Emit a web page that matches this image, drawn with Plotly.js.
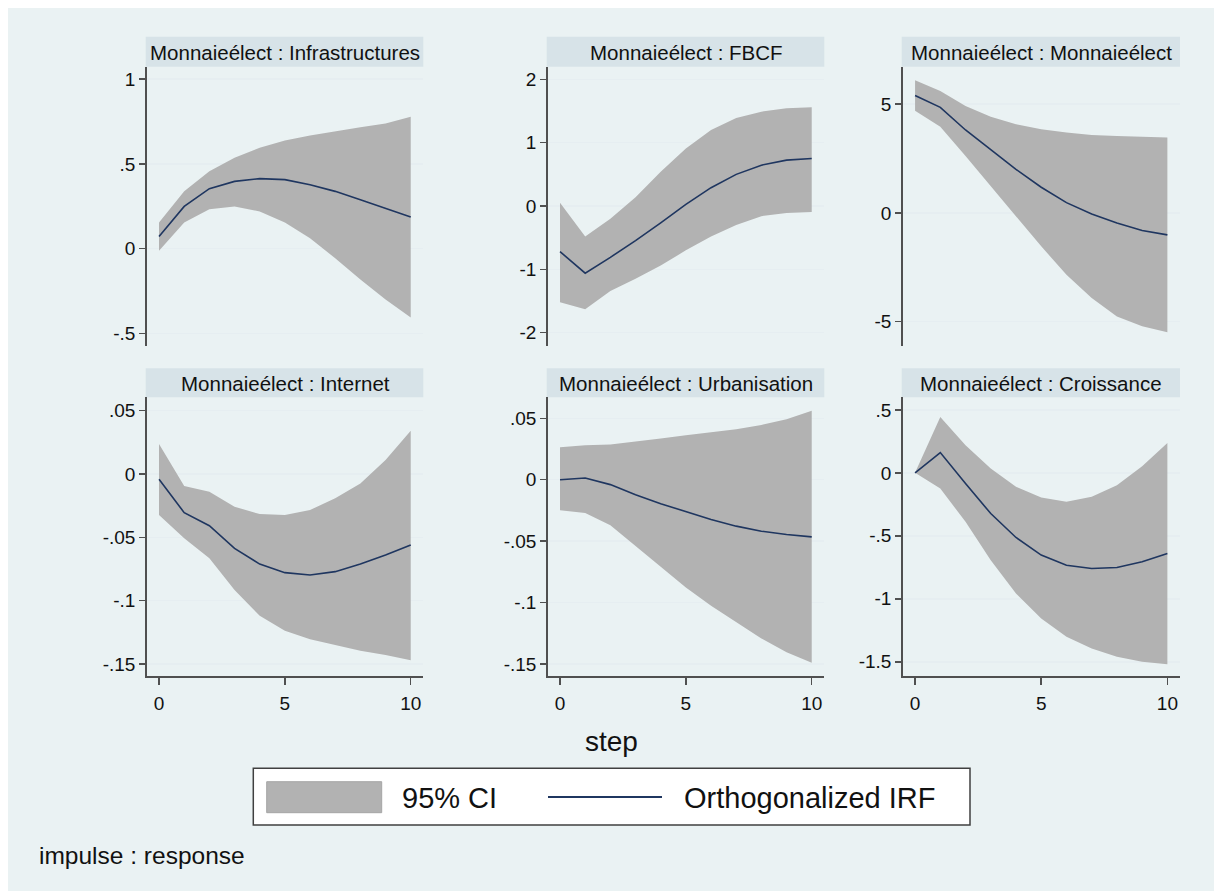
<!DOCTYPE html>
<html>
<head>
<meta charset="utf-8">
<script src="https://cdn.plot.ly/plotly-3.0.1.min.js"></script>
<style>html,body{margin:0;padding:0;background:#fff;}#chart{width:1214px;height:893px;}</style>
</head>
<body>
<div id="chart"></div>
<script>
// ---------- data ----------
const steps = [0,1,2,3,4,5,6,7,8,9,10];
const impulseName = "Monnaieélect";
const responseNames = ["Infrastructures","FBCF","Monnaieélect","Internet","Urbanisation","Croissance"];

const irfInfra = [0.071,0.249,0.354,0.397,0.413,0.407,0.377,0.338,0.289,0.239,0.186];
const hiInfra  = [0.154,0.338,0.457,0.536,0.595,0.638,0.668,0.694,0.717,0.739,0.779];
const loInfra  = [-0.012,0.154,0.233,0.249,0.219,0.154,0.061,-0.057,-0.182,-0.300,-0.407];

const irfFbcf = [-0.72,-1.06,-0.81,-0.545,-0.265,0.026,0.29,0.50,0.645,0.725,0.75];
const hiFbcf  = [0.05,-0.48,-0.20,0.14,0.54,0.91,1.20,1.39,1.49,1.545,1.56];
const loFbcf  = [-1.52,-1.63,-1.34,-1.15,-0.94,-0.70,-0.48,-0.30,-0.16,-0.11,-0.095];

const irfMonn = [5.40,4.85,3.81,2.89,2.00,1.18,0.47,-0.05,-0.47,-0.81,-1.01];
const hiMonn  = [6.10,5.60,4.91,4.42,4.08,3.85,3.69,3.58,3.53,3.50,3.47];
const loMonn  = [4.69,3.96,2.61,1.24,-0.17,-1.54,-2.84,-3.91,-4.76,-5.21,-5.49];

const irfInet = [-0.0042,-0.0305,-0.0408,-0.0587,-0.0711,-0.0779,-0.0797,-0.0771,-0.0711,-0.064,-0.056];
const hiInet  = [0.0237,-0.0095,-0.014,-0.0258,-0.0316,-0.0324,-0.0284,-0.0192,-0.0074,0.011,0.0342];
const loInet  = [-0.0324,-0.0508,-0.0666,-0.0916,-0.112,-0.1237,-0.1305,-0.135,-0.1395,-0.143,-0.147];

const irfUrb = [0,0.0014,-0.004,-0.0122,-0.0195,-0.0262,-0.0324,-0.0378,-0.0419,-0.0446,-0.0465];
const hiUrb  = [0.0265,0.0281,0.0286,0.0308,0.0335,0.0362,0.0384,0.0411,0.0446,0.0492,0.0562];
const loUrb  = [-0.0249,-0.027,-0.037,-0.054,-0.0716,-0.0878,-0.1027,-0.1162,-0.1292,-0.1405,-0.149];

const irfCroi = [0,0.161,-0.085,-0.323,-0.513,-0.653,-0.733,-0.759,-0.751,-0.706,-0.640];
const hiCroi  = [0,0.444,0.220,0.034,-0.111,-0.196,-0.230,-0.190,-0.098,0.053,0.238];
const loCroi  = [0,-0.124,-0.389,-0.693,-0.958,-1.156,-1.302,-1.394,-1.460,-1.500,-1.519];

const xTickVals = [0,5,10];
const xTickText = ["0","5","10"];
const yTickVals1 = [-0.5,0,0.5,1];        const yTickText1 = ["-.5","0",".5","1"];
const yTickVals2 = [-2,-1,0,1,2];         const yTickText2 = ["-2","-1","0","1","2"];
const yTickVals3 = [-5,0,5];              const yTickText3 = ["-5","0","5"];
const yTickVals4 = [-0.15,-0.1,-0.05,0,0.05]; const yTickText4 = ["-.15","-.1","-.05","0",".05"];
const yTickVals5 = [-0.15,-0.1,-0.05,0,0.05]; const yTickText5 = ["-.15","-.1","-.05","0",".05"];
const yTickVals6 = [-1.5,-1,-0.5,0,0.5];  const yTickText6 = ["-1.5","-1","-.5","0",".5"];

const legendLabels = ["95% CI","Orthogonalized IRF"];
const xAxisTitle = "step";
const noteText = "impulse : response";

// ---------- styling / layout ----------
const W = 1214, H = 893;
const FONT = "Liberation Sans, Arial, Helvetica, sans-serif";
const TXT = "#111111";
const CI_COLOR = "#b2b2b2";
const LINE_COLOR = "#1f3660";
const AXIS_COLOR = "#505050";
const GRID_COLOR = "#e6eef1";
const STRIP_COLOR = "#d7e3e8";
const BG = "#eaf2f3";

const colPx = [[146.7,423.3],[547.7,824.3],[902.7,1180]];
const rowPx = [[66.7,346],[397.3,676]];
const stripPx = [[36.7,66.7],[368.3,397.3]];
const px = v => v / W;
const py = v => 1 - v / H;

const panels = [
  {irf: irfInfra, hi: hiInfra, lo: loInfra, yr: [-0.575,1.074], tv: yTickVals1, tt: yTickText1},
  {irf: irfFbcf,  hi: hiFbcf,  lo: loFbcf,  yr: [-2.21,2.2],    tv: yTickVals2, tt: yTickText2},
  {irf: irfMonn,  hi: hiMonn,  lo: loMonn,  yr: [-6.12,6.72],   tv: yTickVals3, tt: yTickText3},
  {irf: irfInet,  hi: hiInet,  lo: loInet,  yr: [-0.1595,0.0606], tv: yTickVals4, tt: yTickText4},
  {irf: irfUrb,   hi: hiUrb,   lo: loUrb,   yr: [-0.1598,0.0671], tv: yTickVals5, tt: yTickText5},
  {irf: irfCroi,  hi: hiCroi,  lo: loCroi,  yr: [-1.613,0.6],   tv: yTickVals6, tt: yTickText6}
];

const traces = [];
const layout = {
  width: W, height: H,
  margin: {l:0, r:0, t:0, b:0, pad:0},
  paper_bgcolor: "#ffffff",
  plot_bgcolor: "#ffffff",
  showlegend: false,
  font: {family: FONT, color: TXT, size: 19},
  shapes: [
    {type:"rect", xref:"paper", yref:"paper", x0:px(8), x1:1, y0:py(891), y1:py(8),
     fillcolor: BG, line:{width:0}, layer:"below"}
  ],
  annotations: []
};

panels.forEach((p, i) => {
  const n = i + 1;
  const suf = n === 1 ? "" : String(n);
  const col = i % 3, row = Math.floor(i / 3);
  const xa = "x" + suf, ya = "y" + suf;

  traces.push({x: steps, y: p.lo, xaxis: xa, yaxis: ya, type: "scatter", mode: "lines",
    line: {width: 0, color: CI_COLOR}, hoverinfo: "skip", name: legendLabels[0], showlegend: false});
  traces.push({x: steps, y: p.hi, xaxis: xa, yaxis: ya, type: "scatter", mode: "lines",
    fill: "tonexty", fillcolor: CI_COLOR, line: {width: 0, color: CI_COLOR},
    name: legendLabels[0], showlegend: false});
  traces.push({x: steps, y: p.irf, xaxis: xa, yaxis: ya, type: "scatter", mode: "lines",
    line: {width: 1.6, color: LINE_COLOR}, name: legendLabels[1], showlegend: false});

  const bottom = row === 1;
  layout["xaxis" + suf] = {
    domain: [px(colPx[col][0]), px(colPx[col][1])],
    anchor: ya, range: [-0.49, 10.5], fixedrange: true,
    showgrid: false, zeroline: false,
    showline: bottom, linecolor: AXIS_COLOR, linewidth: 1.5,
    ticks: bottom ? "outside" : "", ticklen: 7, tickwidth: 1.5, tickcolor: AXIS_COLOR,
    tickmode: "array", tickvals: xTickVals, ticktext: xTickText,
    showticklabels: bottom, tickfont: {family: FONT, size: 19, color: TXT},
    ticklabelstandoff: 3
  };
  layout["yaxis" + suf] = {
    domain: [py(rowPx[row][1]), py(rowPx[row][0])],
    anchor: xa, range: p.yr, fixedrange: true,
    showgrid: true, gridcolor: GRID_COLOR, gridwidth: 1.5, zeroline: false,
    showline: true, linecolor: AXIS_COLOR, linewidth: 1.5,
    ticks: "outside", ticklen: 6, tickwidth: 1.5, tickcolor: AXIS_COLOR,
    tickmode: "array", tickvals: p.tv, ticktext: p.tt,
    tickfont: {family: FONT, size: 19, color: TXT}
  };

  // subtitle strip
  layout.shapes.push({type:"rect", xref:"paper", yref:"paper",
    x0: px(colPx[col][0] - 1), x1: px(colPx[col][1]),
    y0: py(stripPx[row][1]), y1: py(stripPx[row][0]),
    fillcolor: STRIP_COLOR, line:{width:0}, layer:"below"});
  layout.annotations.push({xref:"paper", yref:"paper",
    x: px((colPx[col][0] + colPx[col][1]) / 2), y: py((stripPx[row][0] + stripPx[row][1]) / 2 + 0.5),
    xanchor:"center", yanchor:"middle", showarrow:false,
    text: impulseName + " : " + responseNames[i],
    font:{family: FONT, size: 20.5, color: TXT}});
});

// axis title
layout.annotations.push({xref:"paper", yref:"paper", x: px(611), y: py(741),
  xanchor:"center", yanchor:"middle", showarrow:false, text: xAxisTitle,
  font:{family: FONT, size: 28, color: TXT}});

// legend (key)
layout.shapes.push({type:"rect", xref:"paper", yref:"paper",
  x0: px(253.3), x1: px(970), y0: py(825), y1: py(768.3),
  fillcolor:"#ffffff", line:{color:"#404040", width:1.5}});
layout.shapes.push({type:"rect", xref:"paper", yref:"paper",
  x0: px(266.7), x1: px(381.7), y0: py(812.7), y1: py(781.7),
  fillcolor: CI_COLOR, line:{color:"#a6a6a6", width:1}});
layout.shapes.push({type:"line", xref:"paper", yref:"paper",
  x0: px(548), x1: px(662), y0: py(797), y1: py(797),
  line:{color: LINE_COLOR, width:2}});
layout.annotations.push({xref:"paper", yref:"paper", x: px(400), y: py(797.5),
  xanchor:"left", yanchor:"middle", showarrow:false, text: legendLabels[0],
  font:{family: FONT, size: 29, color: TXT}});
layout.annotations.push({xref:"paper", yref:"paper", x: px(682), y: py(797.5),
  xanchor:"left", yanchor:"middle", showarrow:false, text: legendLabels[1],
  font:{family: FONT, size: 29, color: TXT}});

// note
layout.annotations.push({xref:"paper", yref:"paper", x: px(37), y: py(855),
  xanchor:"left", yanchor:"middle", showarrow:false, text: noteText,
  font:{family: FONT, size: 24.5, color: TXT}});

Plotly.newPlot("chart", traces, layout, {displayModeBar:false, staticPlot:true});
</script>
</body>
</html>
